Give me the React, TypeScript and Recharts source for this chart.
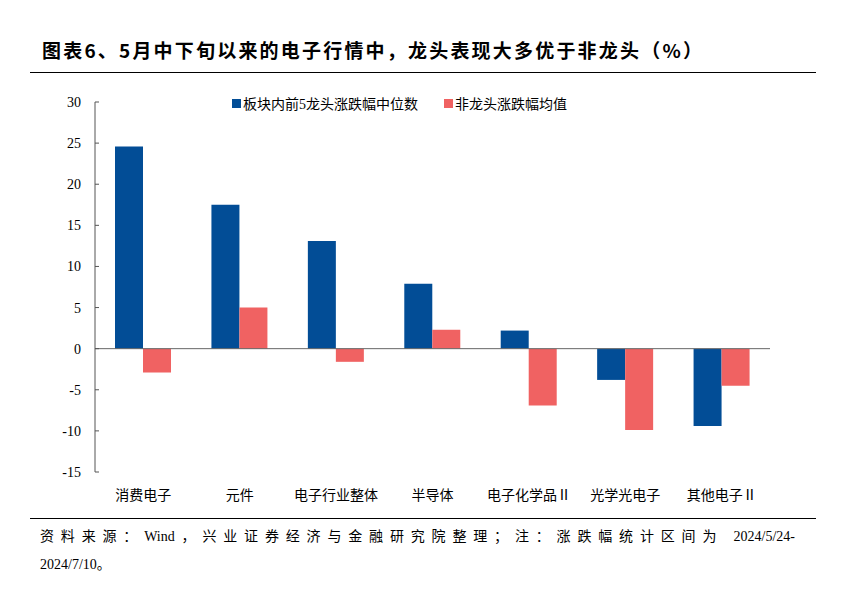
import React from 'react';
import { BarChart, Bar, XAxis, YAxis, ReferenceLine } from 'recharts';

const categories = ['消费电子', '元件', '电子行业整体', '半导体', '电子化学品Ⅱ', '光学光电子', '其他电子Ⅱ'];
const leaderMedian = [24.6, 17.5, 13.1, 7.9, 2.2, -3.8, -9.4];
const nonLeaderMean = [-2.9, 5.0, -1.6, 2.3, -6.9, -9.9, -4.5];
const yTicks = [-15, -10, -5, 0, 5, 10, 15, 20, 25, 30];

const BLUE = '#024D96';
const RED = '#F06262';
const CJK = '"Liberation Serif", "Noto Sans CJK SC", serif';

const data = categories.map((name, i) => ({
  name,
  leader: leaderMedian[i],
  nonLeader: nonLeaderMean[i],
}));

const YTick = (props: any) => {
  const { x, y, payload } = props;
  return (
    <g>
      <line x1={x} x2={x + 4} y1={y} y2={y} stroke="#555" strokeWidth={1} />
      <text x={x - 14} y={y} dy={5} textAnchor="end" fontSize={14} fill="#000" style={{ fontFamily: CJK }}>
        {payload.value}
      </text>
    </g>
  );
};

export default function App() {
  return (
    <div style={{ position: 'fixed', left: 0, top: 0, width: 841, height: 597, background: '#fff' }}>
      <div
        style={{
          position: 'absolute',
          left: 42,
          top: 36,
          fontSize: 19,
          fontWeight: 700,
          fontFamily: '"Noto Sans CJK SC", sans-serif',
          letterSpacing: 2.2,
          color: '#000',
        }}
      >
        图表6、5月中下旬以来的电子行情中，龙头表现大多优于非龙头（%）
      </div>
      <div style={{ position: 'absolute', left: 30, top: 72, width: 786, height: 1, background: '#000' }} />

      <div style={{ position: 'absolute', left: 0, top: 0 }}>
        <BarChart
          width={841}
          height={597}
          data={data}
          margin={{ top: 102, right: 71, bottom: 0, left: 0 }}
          barGap={0}
        >
          <XAxis
            dataKey="name"
            axisLine={false}
            tickLine={false}
            interval={0}
            height={125}
            tick={{ fontSize: 14, fill: '#000', fontFamily: CJK }}
            tickMargin={12}
          />
          <YAxis
            domain={[-15, 30]}
            ticks={yTicks}
            interval={0}
            width={95}
            tickSize={0}
            tickMargin={0}
            tickLine={false}
            axisLine={{ stroke: '#555' }}
            tick={<YTick />}
          />
          <ReferenceLine y={0} stroke="#666" strokeWidth={1} />
          <Bar dataKey="leader" fill={BLUE} barSize={28} isAnimationActive={false} />
          <Bar dataKey="nonLeader" fill={RED} barSize={28} isAnimationActive={false} />
        </BarChart>
      </div>

      <div
        style={{
          position: 'absolute',
          left: 232,
          top: 93,
          display: 'flex',
          fontSize: 14,
          fontFamily: CJK,
          color: '#000',
        }}
      >
        <span style={{ display: 'flex', alignItems: 'center', marginRight: 26 }}>
          <span style={{ width: 9, height: 9, background: BLUE, marginRight: 2 }} />
          板块内前5龙头涨跌幅中位数
        </span>
        <span style={{ display: 'flex', alignItems: 'center' }}>
          <span style={{ width: 9, height: 9, background: RED, marginRight: 2 }} />
          非龙头涨跌幅均值
        </span>
      </div>

      <div style={{ position: 'absolute', left: 30, top: 518, width: 786, height: 1, background: '#000' }} />
      <div
        style={{
          position: 'absolute',
          left: 40,
          top: 525,
          width: 755,
          fontSize: 14,
          fontFamily: CJK,
          color: '#000',
          textAlign: 'justify',
          textAlignLast: 'justify',
          whiteSpace: 'nowrap',
        }}
      >
        资料来源：Wind，兴业证券经济与金融研究院整理；注：涨跌幅统计区间为 2024/5/24-
      </div>
      <div
        style={{
          position: 'absolute',
          left: 40,
          top: 553,
          fontSize: 14,
          fontFamily: CJK,
          color: '#000',
        }}
      >
        2024/7/10。
      </div>
    </div>
  );
}
